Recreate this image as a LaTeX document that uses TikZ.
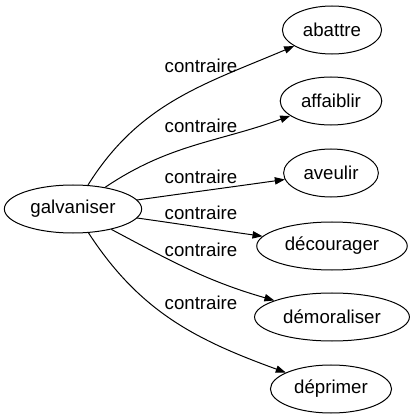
\documentclass[tikz,border=0pt]{standalone}
\usepackage{fontspec}
\setmainfont{Liberation Sans}
\usetikzlibrary{arrows.meta,shapes.geometric}
\tikzset{
  mot/.style={ellipse,draw=black,line width=0.75pt,inner xsep=4.5pt,inner ysep=0pt,minimum height=36pt,font=\fontsize{14pt}{16pt}\selectfont},
  lien/.style={line width=0.75pt,-{Triangle[length=7.5pt,width=5.5pt]}},
  rel/.style={inner sep=0pt,font=\fontsize{14pt}{16pt}\selectfont}
}
\begin{document}
\begin{tikzpicture}[x=0.75pt,y=0.75pt]
		\useasboundingbox (0,0) rectangle (413,419);
		\node[mot](g) at (73,210){galvaniser};
		\node[mot](ab) at (332,389){abattre};
		\node[mot](af) at (331,318){affaiblir};
		\node[mot](av) at (331,246){aveulir};
		\node[mot](dc) at (332,173){décourager};
		\node[mot](dm) at (332,102){démoraliser};
		\node[mot](dp) at (331,30){déprimer};
		\node[rel](l1) at (201,353){contraire};
		\node[rel](l2) at (201,293){contraire};
		\node[rel](l3) at (201,242){contraire};
		\node[rel](l4) at (201,206){contraire};
		\node[rel](l5) at (201,169){contraire};
		\node[rel](l6) at (201,116){contraire};
		\draw[lien](g) to[out=58,in=203] (ab);
		\draw[lien](g) to[out=34,in=200] (af);
		\draw[lien](g) to[out=8,in=188] (av);
		\draw[lien](g) to[out=-8,in=172] (dc);
		\draw[lien](g) to[out=-28,in=164] (dm);
		\draw[lien](g) to[out=-57,in=160] (dp);
	\end{tikzpicture}
\end{document}
